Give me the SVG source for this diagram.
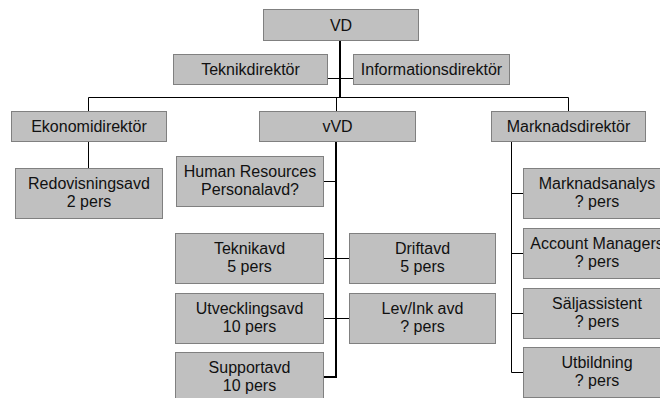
<svg xmlns="http://www.w3.org/2000/svg" width="660" height="398" viewBox="0 0 660 398">
  <style>
    .box { fill: #c0c0c0; stroke: #808080; stroke-width: 1; }
    .lbl { font-family: "Liberation Sans", Arial, sans-serif; font-size: 16px; fill: #111; text-anchor: middle; }
    .wire { fill: none; stroke: #000; stroke-width: 1; }
    .trunk { fill: none; stroke: #000; stroke-width: 2; }
  </style>
  <rect width="660" height="398" fill="#fff"/>

  <!-- connectors -->
  <g id="connectors">
    <path class="trunk" d="M340 40 V97"/>
    <path class="wire" d="M327.5 78.5 H353.5"/>
    <path class="wire" d="M88.5 111 V97.5 H568.5 V111"/>
    <path class="wire" d="M336.5 97.5 V111"/>
    <path class="wire" d="M88.5 142 V168"/>
    <path class="trunk" d="M336 142 V377 H323"/>
    <path class="wire" d="M323 181.5 H336"/>
    <path class="wire" d="M323 258.5 H349"/>
    <path class="wire" d="M323 318.5 H349"/>
    <path class="wire" d="M511.5 142 V372.5 H523"/>
    <path class="wire" d="M511.5 193.5 H523"/>
    <path class="wire" d="M511.5 253.5 H523"/>
    <path class="wire" d="M511.5 313.5 H523"/>
  </g>

  <g id="vd">
    <rect class="box" x="263.5" y="9.5" width="155" height="31"/>
    <text class="lbl" x="341" y="31">VD</text>
  </g>
  <g id="teknikdirektor">
    <rect class="box" x="173.5" y="54.5" width="154" height="30"/>
    <text class="lbl" x="250.5" y="75">Teknikdirektör</text>
  </g>
  <g id="informationsdirektor">
    <rect class="box" x="353.5" y="54.5" width="156" height="30"/>
    <text class="lbl" x="431.5" y="75">Informationsdirektör</text>
  </g>
  <g id="ekonomidirektor">
    <rect class="box" x="11.5" y="111.5" width="155" height="30"/>
    <text class="lbl" x="89" y="132">Ekonomidirektör</text>
  </g>
  <g id="vvd">
    <rect class="box" x="259.5" y="111.5" width="156" height="30"/>
    <text class="lbl" x="337.5" y="132">vVD</text>
  </g>
  <g id="marknadsdirektor">
    <rect class="box" x="491.5" y="111.5" width="154" height="30"/>
    <text class="lbl" x="568.5" y="132">Marknadsdirektör</text>
  </g>
  <g id="redovisningsavd">
    <rect class="box" x="15.5" y="168.5" width="147" height="50"/>
    <text class="lbl" x="89" y="189">Redovisningsavd</text>
    <text class="lbl" x="89" y="207">2 pers</text>
  </g>
  <g id="human-resources">
    <rect class="box" x="176.5" y="156.5" width="147" height="50"/>
    <text class="lbl" x="250" y="177">Human Resources</text>
    <text class="lbl" x="250" y="195">Personalavd?</text>
  </g>
  <g id="teknikavd">
    <rect class="box" x="175.5" y="233.5" width="148" height="50"/>
    <text class="lbl" x="249.5" y="254">Teknikavd</text>
    <text class="lbl" x="249.5" y="272">5 pers</text>
  </g>
  <g id="driftavd">
    <rect class="box" x="349.5" y="233.5" width="146" height="50"/>
    <text class="lbl" x="422.5" y="254">Driftavd</text>
    <text class="lbl" x="422.5" y="272">5 pers</text>
  </g>
  <g id="utvecklingsavd">
    <rect class="box" x="175.5" y="293.5" width="148" height="50"/>
    <text class="lbl" x="249.5" y="314">Utvecklingsavd</text>
    <text class="lbl" x="249.5" y="332">10 pers</text>
  </g>
  <g id="lev-ink-avd">
    <rect class="box" x="349.5" y="293.5" width="146" height="50"/>
    <text class="lbl" x="422.5" y="314">Lev/Ink avd</text>
    <text class="lbl" x="422.5" y="332">? pers</text>
  </g>
  <g id="supportavd">
    <rect class="box" x="175.5" y="352.5" width="148" height="50"/>
    <text class="lbl" x="249.5" y="373">Supportavd</text>
    <text class="lbl" x="249.5" y="391">10 pers</text>
  </g>
  <g id="marknadsanalys">
    <rect class="box" x="523.5" y="168.5" width="147" height="50"/>
    <text class="lbl" x="597" y="189">Marknadsanalys</text>
    <text class="lbl" x="597" y="207">? pers</text>
  </g>
  <g id="account-managers">
    <rect class="box" x="523.5" y="228.5" width="147" height="50"/>
    <text class="lbl" x="597" y="249">Account Managers</text>
    <text class="lbl" x="597" y="267">? pers</text>
  </g>
  <g id="saljassistent">
    <rect class="box" x="523.5" y="288.5" width="147" height="50"/>
    <text class="lbl" x="597" y="309">Säljassistent</text>
    <text class="lbl" x="597" y="327">? pers</text>
  </g>
  <g id="utbildning">
    <rect class="box" x="523.5" y="347.5" width="147" height="50"/>
    <text class="lbl" x="597" y="368">Utbildning</text>
    <text class="lbl" x="597" y="386">? pers</text>
  </g>
</svg>
